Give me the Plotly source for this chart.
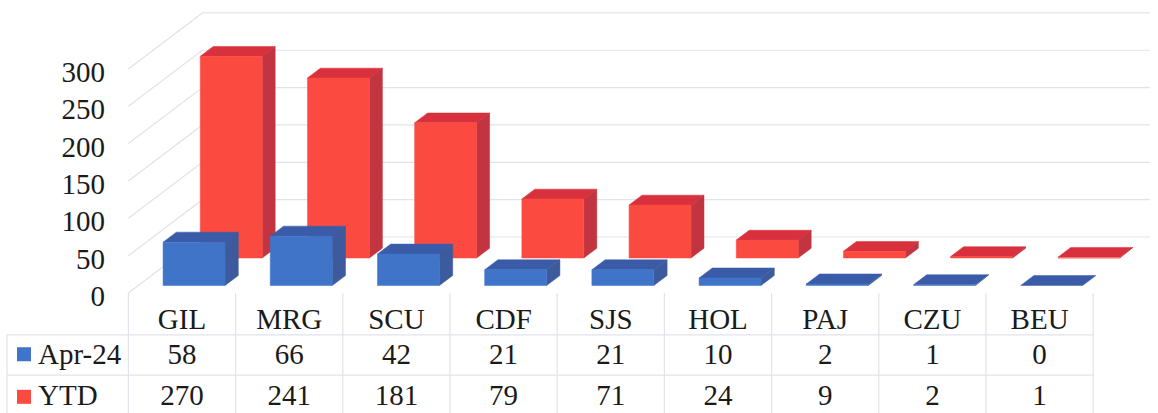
import plotly.graph_objects as go

categories = ["GIL", "MRG", "SCU", "CDF", "SJS", "HOL", "PAJ", "CZU", "BEU"]
apr_24 = [58, 66, 42, 21, 21, 10, 2, 1, 0]
ytd = [270, 241, 181, 79, 71, 24, 9, 2, 1]
y_ticks = [0, 50, 100, 150, 200, 250, 300]

WIDTH, HEIGHT = 1158, 413
SLOT_PX = 107.2          # pixels per category
VALUE_PX = 0.747         # pixels per value unit
ORIGIN_X, ORIGIN_Y = 182, 293

# Oblique projection: a full step into the chart's depth moves by these amounts.
DEPTH_X = 74 / SLOT_PX
DEPTH_Y = 56 / VALUE_PX
BAR_W = 62 / SLOT_PX


def project(x, value, depth):
    return x + depth * DEPTH_X, value + depth * DEPTH_Y


def polygon(points):
    xs, ys = zip(*(project(*p) for p in points))
    return list(xs) + [xs[0]], list(ys) + [ys[0]]


def face(points, color):
    xs, ys = polygon(points)
    return go.Scatter(x=xs, y=ys, mode="lines", fill="toself", fillcolor=color,
                      line=dict(color=color, width=0.5), hoverinfo="skip", showlegend=False)


def bar_faces(i, value, d0, d1, front, top, side, nudge=0.02):
    x0 = i - BAR_W / 2 + nudge
    x1 = x0 + BAR_W
    faces = [face([(x0, value, d0), (x1, value, d0), (x1, value, d1), (x0, value, d1)], top)]
    if value > 0:
        faces.append(face([(x1, 0, d0), (x1, 0, d1), (x1, value, d1), (x1, value, d0)], side))
        faces.append(face([(x0, 0, d0), (x1, 0, d0), (x1, value, d0), (x0, value, d0)], front))
    return faces


def line(xs, ys, color="#e2e3ea", width=1.2):
    return go.Scatter(x=xs, y=ys, mode="lines", line=dict(color=color, width=width),
                      hoverinfo="skip", showlegend=False)


fig = go.Figure()

# Wall gridlines and their diagonal returns to the front of the floor.
left_edge = -0.5
wall_end = (1150 - ORIGIN_X) / SLOT_PX - DEPTH_X
for tick in y_ticks:
    xs, ys = zip(project(left_edge, tick, 0), project(left_edge, tick, 1), project(wall_end, tick, 1))
    fig.add_trace(line(list(xs), list(ys)))

# Data table rules.
ROW_LINES = [-56, -110]
TABLE_BOTTOM = -161
HEADER_TOP = 0
TABLE_LEFT = (7 - ORIGIN_X) / SLOT_PX
n = len(categories)
for k in range(n + 1):
    fig.add_trace(line([k - 0.5, k - 0.5], [HEADER_TOP, TABLE_BOTTOM]))
fig.add_trace(line([TABLE_LEFT, TABLE_LEFT], [ROW_LINES[0], TABLE_BOTTOM]))
for row in ROW_LINES:
    fig.add_trace(line([TABLE_LEFT, n - 0.5], [row, row]))

# Bars: the rear series first, so the front series overlaps it.
for i, value in enumerate(ytd):
    for f in bar_faces(i, value, 0.625, 0.80, "#fb4b40", "#d8303c", "#c2343f", nudge=0.028):
        fig.add_trace(f)
for i, value in enumerate(apr_24):
    for f in bar_faces(i, value, 0.134, 0.313, "#3f74c8", "#3a5ca8", "#3c5a9c"):
        fig.add_trace(f)

# Table values and row headers.
TEXT_FONT = dict(family="Liberation Serif", size=29, color="#1a1a1a")
ROW_APR, ROW_YTD = -86, -140
HEADER_X = (38 - ORIGIN_X) / SLOT_PX
SWATCH_X = (24 - ORIGIN_X) / SLOT_PX
slots = list(range(n))
for row_y, values in ((ROW_APR, apr_24), (ROW_YTD, ytd)):
    fig.add_trace(go.Scatter(x=slots, y=[row_y] * n, mode="text", text=[str(v) for v in values],
                             textfont=TEXT_FONT, textposition="middle center",
                             hoverinfo="skip", showlegend=False))
for row_y, label, color, swatch_y in ((ROW_APR, "Apr-24", "#3f74c8", -82), (ROW_YTD, "YTD", "#fb4b40", -139)):
    fig.add_trace(go.Scatter(x=[SWATCH_X], y=[swatch_y], mode="markers",
                             marker=dict(symbol="square", size=14, color=color),
                             hoverinfo="skip", showlegend=False))
    fig.add_trace(go.Scatter(x=[HEADER_X], y=[row_y], mode="text", text=[label], textfont=TEXT_FONT,
                             textposition="middle right", hoverinfo="skip", showlegend=False))

fig.update_layout(
    width=WIDTH, height=HEIGHT,
    margin=dict(l=0, r=0, t=0, b=0),
    paper_bgcolor="white", plot_bgcolor="white",
    showlegend=False,
    xaxis=dict(
        range=[-ORIGIN_X / SLOT_PX, (WIDTH - ORIGIN_X) / SLOT_PX],
        tickmode="array", tickvals=slots, ticktext=categories,
        tickfont=TEXT_FONT, showgrid=False, zeroline=False, showline=False, ticks="",
        anchor="free", position=1 - 299 / HEIGHT,
    ),
    yaxis=dict(
        range=[(ORIGIN_Y - HEIGHT) / VALUE_PX, ORIGIN_Y / VALUE_PX],
        tickmode="array", tickvals=y_ticks, ticktext=[str(t) for t in y_ticks],
        tickfont=TEXT_FONT, showgrid=False, zeroline=False, showline=False, ticks="",
        ticklabelshift=3,
        anchor="free", position=105 / WIDTH,
    ),
)

fig.write_html("out.html")
